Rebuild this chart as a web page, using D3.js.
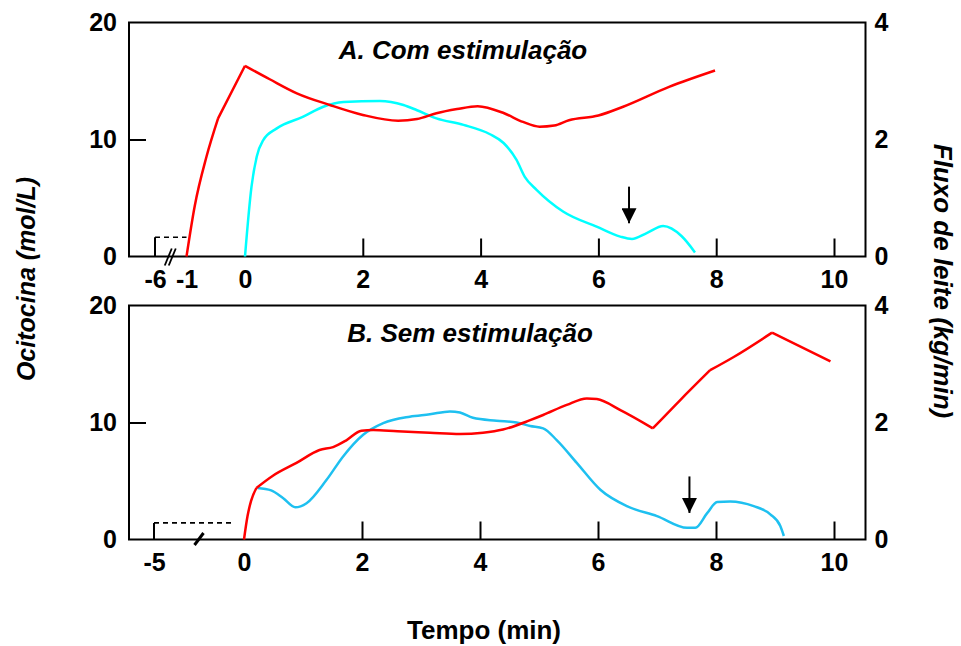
<!DOCTYPE html>
<html>
<head>
<meta charset="utf-8">
<script src="https://cdn.jsdelivr.net/npm/d3@7"></script>
<style>
  body { margin: 0; background: #fff; }
  svg text { font-family: "Liberation Sans", Arial, sans-serif; font-weight: bold; fill: #000; }
  .tick text { font-size: 25px; }
</style>
</head>
<body>
<div id="chart"></div>
<script>
// Ocitocina (mol/L), left axis
var redA = [[-1,0],[-0.86,4.3],[-0.66,8.5],[-0.46,11.8],[0,16.3],[0.42,15.15],[0.88,13.95],[1.44,12.95],
  [2.0,12.1],[2.6,11.6],[2.92,11.75],[3.25,12.24],[3.6,12.6],[3.95,12.85],[4.4,12.24],[4.72,11.5],
  [5.0,11.1],[5.25,11.2],[5.5,11.65],[6.0,12.05],[6.42,12.8],[7.2,14.5],[7.98,15.9]];
// Fluxo de leite (kg/min), right axis
var cyanA = [[0,0],[0.11,1.19],[0.2,1.71],[0.31,1.99],[0.54,2.19],[0.99,2.39],[1.33,2.56],[1.67,2.64],
  [2.29,2.66],[2.69,2.59],[2.92,2.5],[3.25,2.36],[3.71,2.25],[4.16,2.09],[4.39,1.94],[4.61,1.65],
  [4.75,1.36],[4.95,1.14],[5.4,0.77],[5.97,0.51],[6.37,0.34],[6.57,0.3],[6.82,0.4],[7.1,0.52],
  [7.41,0.35],[7.64,0.07]];
var redB = [[0,0],[0.06,2.0],[0.12,3.3],[0.21,4.4],[0.49,5.45],[0.89,6.55],[1.28,7.65],[1.51,7.9],
  [1.74,8.5],[1.99,9.3],[2.19,9.36],[2.6,9.25],[3.15,9.13],[3.66,9.02],[4.05,9.13],[4.39,9.4],
  [4.85,10.2],[5.07,10.64],[5.47,11.5],[5.81,12.06],[5.98,12.0],[6.38,11.06],[6.93,9.5],[7.39,11.9],
  [7.9,14.47],[8.3,15.6],[8.95,17.68],[9.94,15.23]];
var cyanB = [[0.23,0.88],[0.46,0.84],[0.66,0.71],[0.87,0.55],[1.06,0.62],[1.4,1.02],[1.68,1.42],
  [2.02,1.79],[2.36,1.99],[2.81,2.1],[3.15,2.14],[3.49,2.19],[3.66,2.17],[3.88,2.08],[4.28,2.03],
  [4.62,2.0],[4.85,1.94],[5.07,1.9],[5.3,1.7],[5.64,1.31],[6.04,0.85],[6.49,0.57],[7.0,0.4],
  [7.51,0.2],[7.65,0.2],[7.85,0.45],[8.02,0.64],[8.24,0.65],[8.64,0.57],[8.92,0.43],[9.09,0.23],
  [9.15,0.06]];

// times where the oxytocin line has a sharp corner
var cornersA = [-0.46, 0];
var cornersB = [0.21, 6.93, 7.9, 8.95];

var xTicksA = [-6, -1, 0, 2, 4, 6, 8, 10];
var xTicksB = [-5, 0, 2, 4, 6, 8, 10];
var innerTicks = [2, 4, 6, 8, 10];
var leftTicks = [0, 10, 20];
var rightTicks = [0, 2, 4];

// baseline (pre-stimulation) dashed segments: [start, end, level]
var baseA = [-6, -1, 1.64];
var baseB = [-5, -0.6, 1.42];
// arrows: [time, top, tip] in mol/L
var arrowA = [6.52, 5.97, 2.84];
var arrowB = [7.55, 5.39, 2.27];

var width = 961, height = 646;
var left = 129, right = 865.5;
var panelH = 234;

var svg = d3.select("#chart").append("svg")
  .attr("width", width)
  .attr("height", height);

svg.append("defs").append("marker")
  .attr("id", "arrowHead")
  .attr("viewBox", "0 0 10 10")
  .attr("refX", 10).attr("refY", 5)
  .attr("markerWidth", 15).attr("markerHeight", 15)
  .attr("markerUnits", "userSpaceOnUse")
  .attr("orient", "auto")
  .append("path")
  .attr("d", "M0,0 L10,5 L0,10 Z")
  .attr("fill", "#000");

function splitAt(data, corners) {
  var segs = [[]];
  data.forEach(function (d) {
    segs[segs.length - 1].push(d);
    if (corners.indexOf(d[0]) >= 0) segs.push([d]);
  });
  return segs.filter(function (s) { return s.length > 1; });
}

function panel(top, xDomain, xRange, xTicks, red, corners, cyan, cyanColor, base, arrow, title, titleX, breakType) {
  var g = svg.append("g");

  var x = d3.scaleLinear().domain(xDomain).range(xRange);
  var yL = d3.scaleLinear().domain([0, 20]).range([top + panelH, top]);
  var yR = d3.scaleLinear().domain([0, 4]).range([top + panelH, top]);
  var bottom = top + panelH;

  // frame
  g.append("rect")
    .attr("x", left).attr("y", top)
    .attr("width", right - left).attr("height", panelH)
    .attr("fill", "none").attr("stroke", "#000").attr("stroke-width", 2);

  // x labels
  var xa = g.append("g")
    .attr("transform", "translate(0," + bottom + ")")
    .call(d3.axisBottom(x).tickValues(xTicks).tickSize(0).tickPadding(14).tickFormat(d3.format("d")));
  xa.select(".domain").remove();
  xa.selectAll("text").text(function (d) { return d < 0 ? "-" + Math.abs(d) : d; });

  // inward ticks
  var xt = g.append("g")
    .attr("transform", "translate(0," + bottom + ")")
    .call(d3.axisBottom(x).tickValues(innerTicks).tickSizeInner(-18).tickSizeOuter(0).tickFormat(""));
  xt.select(".domain").remove();
  xt.selectAll("line").attr("stroke-width", 2);

  var ya = g.append("g")
    .attr("transform", "translate(" + left + ",0)")
    .call(d3.axisLeft(yL).tickValues(leftTicks).tickSize(0).tickPadding(12));
  ya.select(".domain").remove();

  var yt = g.append("g")
    .attr("transform", "translate(" + left + ",0)")
    .call(d3.axisLeft(yL).tickValues([10]).tickSizeInner(-17).tickSizeOuter(0).tickFormat(""));
  yt.select(".domain").remove();
  yt.selectAll("line").attr("stroke-width", 2);

  var ra = g.append("g")
    .attr("transform", "translate(" + right + ",0)")
    .call(d3.axisRight(yR).tickValues(rightTicks).tickSize(0).tickPadding(9).tickFormat(d3.format("d")));
  ra.select(".domain").remove();

  // baseline bracket
  g.append("line")
    .attr("x1", x(base[0])).attr("x2", x(base[0]))
    .attr("y1", yL(0)).attr("y2", yL(base[2]))
    .attr("stroke", "#000").attr("stroke-width", 2);
  g.append("line")
    .attr("x1", x(base[0])).attr("x2", x(base[1]))
    .attr("y1", yL(base[2])).attr("y2", yL(base[2]))
    .attr("stroke", "#000").attr("stroke-width", 1.6)
    .attr("stroke-dasharray", "5,4");

  // axis break
  var bx;
  if (breakType === 2) {
    bx = (x(-6) + x(-1)) / 2;
    [-2, 2].forEach(function (o) {
      g.append("line")
        .attr("x1", bx + o - 4).attr("y1", bottom + 9)
        .attr("x2", bx + o + 3).attr("y2", bottom - 8)
        .attr("stroke", "#000").attr("stroke-width", 1.8);
    });
  } else {
    bx = x(-2.5);
    g.append("line")
      .attr("x1", bx - 4.5).attr("y1", bottom + 5.5)
      .attr("x2", bx + 4.5).attr("y2", bottom - 6.5)
      .attr("stroke", "#000").attr("stroke-width", 3);
  }

  var lineL = d3.line()
    .x(function (d) { return x(d[0]); })
    .y(function (d) { return yL(d[1]); })
    .curve(d3.curveMonotoneX);
  var lineR = d3.line()
    .x(function (d) { return x(d[0]); })
    .y(function (d) { return yR(d[1]); })
    .curve(d3.curveMonotoneX);

  g.append("path")
    .attr("d", lineR(cyan))
    .attr("fill", "none").attr("stroke", cyanColor).attr("stroke-width", 2.5)
    .attr("stroke-linejoin", "round");
  g.append("path")
    .attr("d", splitAt(red, corners).map(lineL).join(""))
    .attr("fill", "none").attr("stroke", "#ff0000").attr("stroke-width", 2.5)
    .attr("stroke-linejoin", "round");

  g.append("line")
    .attr("x1", x(arrow[0])).attr("x2", x(arrow[0]))
    .attr("y1", yL(arrow[1])).attr("y2", yL(arrow[2]))
    .attr("stroke", "#000").attr("stroke-width", 2)
    .attr("marker-end", "url(#arrowHead)");

  g.append("text")
    .attr("x", titleX).attr("y", top + 36.5)
    .attr("text-anchor", "middle")
    .style("font-size", "26px").style("font-style", "italic")
    .text(title);
}

panel(22.5, [-6, -1, 0, 10], [155, 186.5, 245, 834], xTicksA, redA, cornersA, cyanA, "#00ffff",
  baseA, arrowA, "A. Com estimulação", 463, 2);
panel(305.5, [-5, 0, 10], [154, 244, 834], xTicksB, redB, cornersB, cyanB, "#1ec0f0",
  baseB, arrowB, "B. Sem estimulação", 470, 1);

svg.append("text")
  .attr("x", 484).attr("y", 639)
  .attr("text-anchor", "middle")
  .style("font-size", "26px")
  .text("Tempo (min)");

svg.append("text")
  .attr("transform", "translate(35,279) rotate(-90)")
  .attr("text-anchor", "middle")
  .style("font-size", "25px").style("font-style", "italic")
  .text("Ocitocina (mol/L)");

svg.append("text")
  .attr("transform", "translate(934,281) rotate(90)")
  .attr("text-anchor", "middle")
  .style("font-size", "26px").style("font-style", "italic")
  .text("Fluxo de leite (kg/min)");
</script>
</body>
</html>
